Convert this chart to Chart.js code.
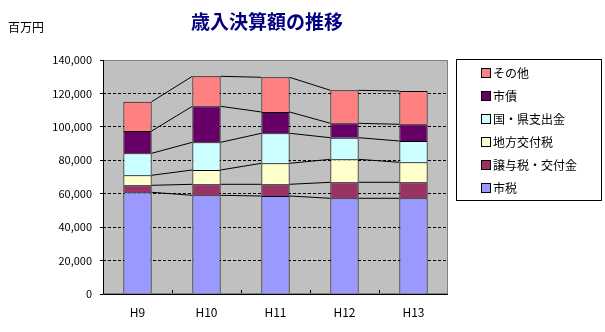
<!DOCTYPE html>
<html>
<head>
<meta charset="utf-8">
<script src="https://cdn.jsdelivr.net/npm/chart.js@4/dist/chart.umd.min.js"></script>
<style>
  body { margin: 0; background: #fff; }
  #wrap { width: 605px; height: 332px; }
</style>
</head>
<body>
<div id="wrap"><canvas id="revenue-chart"></canvas></div>
<script>
const years = ['H9', 'H10', 'H11', 'H12', 'H13'];
const cityTax = [60850, 59050, 58630, 57260, 57260];
const transferTax = [4180, 6580, 7000, 9570, 9570];
const localAllocation = [5990, 8560, 12570, 13760, 11970];
const subsidies = [13160, 16570, 17950, 12920, 12740];
const cityBonds = [13340, 21540, 12740, 8620, 9990];
const others = [17530, 17950, 20760, 19740, 19920];
const yTicks = [0, 20000, 40000, 60000, 80000, 100000, 120000, 140000];

const font = "'Noto Sans CJK JP', 'DejaVu Sans', sans-serif";

// Excel style series lines between stacked segments, plus frame, legend, titles
const decorations = {
  id: 'decorations',
  beforeDatasetsDraw(chart) {
    const { ctx, chartArea: a } = chart;
    ctx.save();
    ctx.strokeStyle = '#000';
    ctx.lineWidth = 1;
    // x tick marks at category boundaries, pointing up
    const xs = chart.scales.x;
    for (let i = 1; i < years.length; i++) {
      const bx = Math.round((xs.getPixelForValue(i - 1) + xs.getPixelForValue(i)) / 2) + 0.5;
      ctx.beginPath();
      ctx.moveTo(bx, a.bottom);
      ctx.lineTo(bx, a.bottom - 4);
      ctx.stroke();
    }
    ctx.restore();
  },
  afterDatasetsDraw(chart) {
    const { ctx, chartArea: a } = chart;
    ctx.save();
    ctx.strokeStyle = '#000';
    ctx.lineWidth = 1;
    chart.data.datasets.forEach((ds, di) => {
      const bars = chart.getDatasetMeta(di).data;
      for (let i = 0; i < bars.length - 1; i++) {
        const p = bars[i], q = bars[i + 1];
        ctx.beginPath();
        ctx.moveTo(p.x + p.width / 2, p.y);
        ctx.lineTo(q.x - q.width / 2, q.y);
        ctx.stroke();
      }
    });
    // plot frame
    ctx.strokeStyle = '#808080';
    ctx.strokeRect(a.left + 0.5, a.top + 0.5, a.right - a.left - 1, a.bottom - a.top - 1);
    ctx.strokeStyle = '#000';
    ctx.beginPath();
    ctx.moveTo(a.left + 0.5, a.top);
    ctx.lineTo(a.left + 0.5, a.bottom + 0.5);
    ctx.lineTo(a.right, a.bottom + 0.5);
    ctx.stroke();
    ctx.restore();
  },
  afterDraw(chart) {
    const { ctx } = chart;
    ctx.save();
    // title and unit
    ctx.fillStyle = '#000080';
    ctx.font = 'bold 19px ' + font;
    ctx.textAlign = 'center';
    ctx.textBaseline = 'middle';
    ctx.fillText('歳入決算額の推移', 267, 22);
    ctx.fillStyle = '#000';
    ctx.font = '12px ' + font;
    ctx.textAlign = 'left';
    ctx.fillText('百万円', 8, 27);
    // legend box
    ctx.strokeStyle = '#000';
    ctx.lineWidth = 1;
    ctx.strokeRect(456.5, 59.5, 145, 141);
    const items = chart.data.datasets.slice().reverse();
    items.forEach((ds, i) => {
      const cy = 73 + i * 23;
      ctx.fillStyle = ds.backgroundColor;
      ctx.fillRect(481.5, cy - 4.5, 9, 9);
      ctx.strokeRect(481.5, cy - 4.5, 9, 9);
      ctx.fillStyle = '#000';
      ctx.font = '12px ' + font;
      ctx.fillText(ds.label, 493, cy);
    });
    ctx.restore();
  }
};

const plotBackground = {
  id: 'plotBackground',
  beforeDraw(chart) {
    const { ctx, chartArea: a } = chart;
    ctx.save();
    ctx.fillStyle = '#C0C0C0';
    ctx.fillRect(a.left, a.top, a.right - a.left, a.bottom - a.top);
    ctx.restore();
  }
};

const makeSet = (label, data, color) => ({
  label,
  data,
  backgroundColor: color,
  borderColor: '#000',
  borderWidth: 1,
  borderSkipped: 'bottom',
  barPercentage: 0.41,
  categoryPercentage: 1
});

const revenue = new Chart(document.getElementById('revenue-chart'), {
  type: 'bar',
  data: {
    labels: years,
    datasets: [
      makeSet('市税', cityTax, '#9999FF'),
      makeSet('譲与税・交付金', transferTax, '#993366'),
      makeSet('地方交付税', localAllocation, '#FFFFCC'),
      makeSet('国・県支出金', subsidies, '#CCFFFF'),
      makeSet('市債', cityBonds, '#660066'),
      makeSet('その他', others, '#FF8080')
    ]
  },
  options: {
    responsive: true,
    maintainAspectRatio: false,
    animation: false,
    layout: { padding: { left: 0, top: 60, right: 157, bottom: 0 } },
    plugins: {
      legend: { display: false },
      title: { display: false },
      tooltip: { enabled: false }
    },
    scales: {
      x: {
        stacked: true,
        grid: { display: false, drawTicks: false },
        border: { display: false },
        ticks: { color: '#000', font: { family: font, size: 12 }, padding: 11 },
        afterFit: scale => { scale.height = 38; }
      },
      y: {
        stacked: true,
        min: 0,
        max: 140000,
        afterBuildTicks: scale => { scale.ticks = yTicks.map(v => ({ value: v })); },
        grid: {
          color: ctx => (ctx.tick && (ctx.tick.value === 0 || ctx.tick.value === 140000)) ? 'rgba(0,0,0,0)' : '#000',
          tickColor: '#000',
          tickLength: 3,
          tickBorderDash: []
        },
        border: { display: false, dash: [3, 2] },
        ticks: {
          color: '#000',
          font: { family: font, size: 11 },
          padding: 8,
          callback: v => v.toLocaleString('en-US')
        },
        afterFit: scale => { scale.width = 103; }
      }
    }
  },
  plugins: [plotBackground, decorations]
});
</script>
</body>
</html>
